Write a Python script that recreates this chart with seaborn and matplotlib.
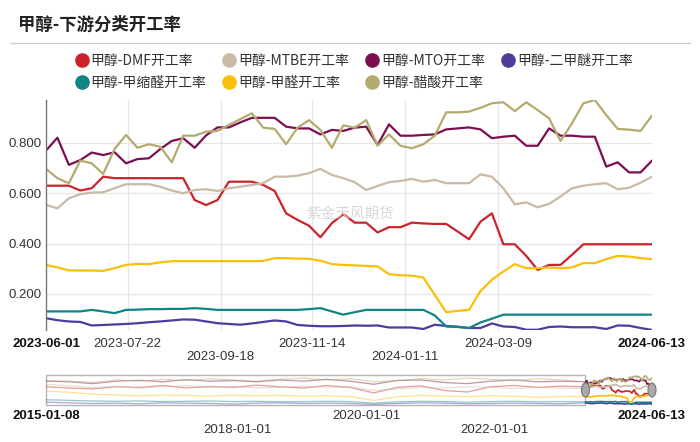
"""
Methanol downstream operating rates, weekly, with a zoom-slider strip below
"""
# %% IMPORT LIBRARIES
import matplotlib
matplotlib.use("Agg")
import matplotlib.pyplot as plt
import matplotlib.transforms as mtransforms
from matplotlib.lines import Line2D
from matplotlib.patches import Rectangle, Ellipse
from matplotlib.font_manager import FontProperties
import pandas as pd
import seaborn as sns

sns.set_style("white")
plt.rcParams['font.family'] = ['Liberation Sans', 'Noto Sans CJK SC', 'DejaVu Sans']

# %% DATA
names = ["甲醇-DMF开工率", "甲醇-MTBE开工率", "甲醇-MTO开工率", "甲醇-二甲醚开工率",
         "甲醇-甲缩醛开工率", "甲醇-甲醛开工率", "甲醇-醋酸开工率"]
colors = ["#cc2229", "#c9baa6", "#7b0f4f", "#4e3b9c", "#0f8586", "#fbbf0a", "#b5aa6e"]

# weekly points shown in the zoom window
dates = pd.date_range("2023-06-01", "2024-06-13", periods=54)

dmf = [0.630, 0.630, 0.630, 0.611, 0.620, 0.666, 0.660, 0.660, 0.660, 0.660, 0.660, 0.660, 0.660,
       0.573, 0.553, 0.573, 0.646, 0.646, 0.646, 0.633, 0.609, 0.520, 0.494, 0.471, 0.425, 0.481, 0.517,
       0.483, 0.483, 0.444, 0.465, 0.465, 0.483, 0.480, 0.478, 0.478, 0.448, 0.417, 0.487, 0.520,
       0.397, 0.397, 0.351, 0.295, 0.315, 0.315, 0.355, 0.397, 0.397, 0.397, 0.397, 0.397, 0.397, 0.397]
mtbe = [0.554, 0.540, 0.580, 0.596, 0.603, 0.604, 0.620, 0.636, 0.636, 0.636, 0.626, 0.611, 0.600,
        0.613, 0.616, 0.609, 0.620, 0.626, 0.633, 0.640, 0.666, 0.666, 0.670, 0.680, 0.697, 0.673, 0.660,
        0.644, 0.613, 0.629, 0.644, 0.649, 0.657, 0.646, 0.653, 0.640, 0.640, 0.640, 0.675, 0.666,
        0.620, 0.556, 0.564, 0.544, 0.558, 0.587, 0.620, 0.630, 0.636, 0.640, 0.616, 0.622, 0.642, 0.666]
mto = [0.770, 0.821, 0.713, 0.732, 0.762, 0.752, 0.763, 0.719, 0.736, 0.739, 0.776, 0.808, 0.819,
       0.781, 0.830, 0.862, 0.862, 0.882, 0.900, 0.900, 0.900, 0.865, 0.858, 0.858, 0.834, 0.852, 0.848,
       0.861, 0.865, 0.792, 0.874, 0.829, 0.829, 0.832, 0.834, 0.854, 0.858, 0.862, 0.854, 0.819,
       0.825, 0.829, 0.789, 0.789, 0.858, 0.829, 0.829, 0.825, 0.825, 0.706, 0.723, 0.683, 0.683, 0.730]
dme = [0.103, 0.095, 0.090, 0.088, 0.074, 0.076, 0.078, 0.080, 0.083, 0.087, 0.090, 0.094, 0.098,
       0.097, 0.090, 0.083, 0.080, 0.077, 0.082, 0.088, 0.094, 0.090, 0.076, 0.073, 0.071, 0.071, 0.072,
       0.074, 0.073, 0.074, 0.066, 0.066, 0.066, 0.060, 0.077, 0.072, 0.069, 0.064, 0.064, 0.082,
       0.070, 0.068, 0.057, 0.057, 0.068, 0.070, 0.067, 0.067, 0.067, 0.060, 0.074, 0.073, 0.064, 0.056]
methylal = [0.130, 0.130, 0.130, 0.130, 0.136, 0.130, 0.123, 0.136, 0.137, 0.139, 0.139, 0.140, 0.140,
            0.143, 0.140, 0.136, 0.136, 0.136, 0.136, 0.136, 0.136, 0.136, 0.136, 0.139, 0.143, 0.130, 0.117,
            0.127, 0.136, 0.136, 0.136, 0.136, 0.136, 0.136, 0.114, 0.070, 0.068, 0.064, 0.086, 0.101,
            0.117, 0.117, 0.117, 0.117, 0.117, 0.117, 0.117, 0.117, 0.117, 0.117, 0.117, 0.117, 0.117, 0.117]
formaldehyde = [0.315, 0.305, 0.293, 0.293, 0.293, 0.291, 0.302, 0.315, 0.319, 0.318, 0.325, 0.330, 0.330,
                0.330, 0.330, 0.330, 0.330, 0.330, 0.330, 0.331, 0.342, 0.342, 0.340, 0.339, 0.332, 0.318, 0.315,
                0.313, 0.311, 0.309, 0.278, 0.274, 0.272, 0.265, 0.196, 0.127, 0.132, 0.136, 0.211, 0.256,
                0.289, 0.318, 0.302, 0.302, 0.305, 0.302, 0.305, 0.322, 0.322, 0.338, 0.351, 0.348, 0.342, 0.338]
acetic = [0.697, 0.660, 0.640, 0.730, 0.719, 0.677, 0.776, 0.832, 0.781, 0.795, 0.785, 0.723, 0.829,
          0.829, 0.845, 0.848, 0.872, 0.895, 0.918, 0.861, 0.856, 0.795, 0.861, 0.891, 0.852, 0.781, 0.870,
          0.861, 0.891, 0.789, 0.834, 0.789, 0.779, 0.795, 0.829, 0.922, 0.922, 0.925, 0.940, 0.958,
          0.962, 0.927, 0.962, 0.931, 0.898, 0.808, 0.878, 0.958, 0.971, 0.911, 0.856, 0.853, 0.848, 0.909]

# rough history for the slider strip
hist_dates = pd.date_range("2015-01-08", "2023-05-25", periods=24)
hist_dmf = [0.62, 0.58, 0.55, 0.62, 0.60, 0.66, 0.58, 0.63, 0.60, 0.67, 0.62, 0.58,
            0.66, 0.60, 0.42, 0.60, 0.65, 0.50, 0.45, 0.62, 0.66, 0.60, 0.64, 0.62]
hist_mtbe = [0.70, 0.65, 0.60, 0.63, 0.58, 0.62, 0.66, 0.60, 0.63, 0.58, 0.60, 0.64,
             0.60, 0.62, 0.50, 0.55, 0.60, 0.58, 0.62, 0.60, 0.56, 0.60, 0.58, 0.56]
hist_mto = [0.80, 0.78, 0.72, 0.80, 0.83, 0.78, 0.85, 0.80, 0.82, 0.78, 0.84, 0.80,
            0.86, 0.80, 0.70, 0.82, 0.84, 0.76, 0.72, 0.80, 0.84, 0.78, 0.80, 0.78]
hist_dme = [0.12, 0.10, 0.08, 0.09, 0.07, 0.10, 0.09, 0.08, 0.06, 0.09, 0.10, 0.08,
            0.09, 0.08, 0.05, 0.08, 0.10, 0.09, 0.07, 0.08, 0.09, 0.08, 0.07, 0.10]
hist_methylal = [0.20, 0.18, 0.16, 0.15, 0.16, 0.14, 0.15, 0.16, 0.14, 0.15, 0.13, 0.14,
                 0.15, 0.14, 0.09, 0.13, 0.15, 0.14, 0.12, 0.14, 0.15, 0.13, 0.14, 0.13]
hist_formaldehyde = [0.48, 0.44, 0.38, 0.35, 0.33, 0.35, 0.34, 0.32, 0.35, 0.33, 0.34, 0.32,
                     0.33, 0.30, 0.18, 0.30, 0.34, 0.32, 0.30, 0.33, 0.31, 0.28, 0.30, 0.31]
hist_acetic = [0.82, 0.80, 0.76, 0.84, 0.80, 0.86, 0.82, 0.88, 0.84, 0.80, 0.86, 0.90,
               0.84, 0.88, 0.78, 0.82, 0.88, 0.84, 0.90, 0.86, 0.82, 0.88, 0.84, 0.78]

main_ticks = ["2023-07-22", "2023-09-18", "2023-11-14", "2024-01-11", "2024-03-09"]
slider_ticks = ["2018-01-01", "2020-01-01", "2022-01-01"]
yticks = [0.2, 0.4, 0.6, 0.8]

# %% BUILD TABLES
series = [dmf, mtbe, mto, dme, methylal, formaldehyde, acetic]
hist_series = [hist_dmf, hist_mtbe, hist_mto, hist_dme, hist_methylal, hist_formaldehyde, hist_acetic]

df = pd.concat([pd.DataFrame({"date": dates, "rate": vals, "series": n})
                for n, vals in zip(names, series)], ignore_index=True)
hist = pd.concat([pd.DataFrame({"date": list(hist_dates) + [dates[0]],
                                "rate": list(hv) + [v[0]], "series": n})
                  for n, hv, v in zip(names, hist_series, series)], ignore_index=True)

palette = dict(zip(names, colors))
start, end = dates[0], dates[-1]
full_start = hist_dates[0]

# %% FIGURE
fig = plt.figure(figsize=(7, 4.42), dpi=100)
W, H = 700, 442


def box(x0, y0, x1, y1):
    return [x0 / W, 1 - y1 / H, (x1 - x0) / W, (y1 - y0) / H]


ax = fig.add_axes(box(46, 100, 652, 330))
sns.lineplot(data=df, x="date", y="rate", hue="series", hue_order=names,
             palette=palette, linewidth=1.6, legend=False, ax=ax, estimator=None)
ax.set_xlim(start, end)
ax.set_ylim(0.056, 0.971)
ax.set_xlabel("")
ax.set_ylabel("")
ax.set_yticks(yticks)
ax.set_yticklabels([f"{v:.3f}" for v in yticks], color="#333333", fontsize=9.5)
ax.tick_params(axis="y", length=0, pad=3)
ax.set_xticks(pd.to_datetime(main_ticks))
ax.set_xticklabels([])
ax.tick_params(axis="x", length=0)
ax.grid(True, color="#e6e6e6", linewidth=0.9)
ax.set_axisbelow(True)
for s in ["top", "right", "bottom"]:
    ax.spines[s].set_visible(False)
ax.spines["left"].set_color("#777777")
ax.spines["left"].set_linewidth(1.0)

ax.text(0.502, 0.504, "紫金天风期货", transform=ax.transAxes, ha="center", va="center",
        fontsize=10.5, color="#d8d8d8", family=["Noto Sans CJK SC"])

# x labels in two staggered rows
trans = mtransforms.blended_transform_factory(ax.transData, fig.transFigure)
row1, row2 = 1 - 344 / H, 1 - 357 / H
ax.text(start, row1, start.strftime("%Y-%m-%d"), transform=trans, ha="center", va="center",
        fontsize=9.5, fontweight="bold", color="#111111")
ax.text(end, row1, end.strftime("%Y-%m-%d"), transform=trans, ha="center", va="center",
        fontsize=9.5, fontweight="bold", color="#111111")
for i, t in enumerate(main_ticks):
    ax.text(pd.Timestamp(t), row1 if i % 2 == 0 else row2, t, transform=trans,
            ha="center", va="center", fontsize=9.5, color="#333333")

# %% SLIDER
sl = fig.add_axes(box(46, 375, 652, 405))
sns.lineplot(data=hist, x="date", y="rate", hue="series", hue_order=names,
             palette=palette, linewidth=0.9, alpha=0.45, legend=False, ax=sl, estimator=None)
sns.lineplot(data=df, x="date", y="rate", hue="series", hue_order=names,
             palette=palette, linewidth=1.2, legend=False, ax=sl, estimator=None)
sl.set_xlim(full_start, end)
sl.set_ylim(0.03, 1.0)
sl.set_xlabel("")
sl.set_ylabel("")
sl.set_xticks([])
sl.set_yticks([])
for s in sl.spines.values():
    s.set_visible(False)
sl.add_patch(Rectangle((0, 0), (585 - 46) / (652 - 46), 1, transform=sl.transAxes,
                       fill=False, edgecolor="#b4b4b4", linewidth=1.0, clip_on=False))
for hx in [start, end]:
    px = (hx - full_start) / (end - full_start)
    sl.add_patch(Ellipse((px, 0.5), 8 / 606, 14 / 30, transform=sl.transAxes,
                         facecolor="#a9a9a9", edgecolor="#777777", linewidth=0.8,
                         clip_on=False, zorder=5))

trans2 = mtransforms.blended_transform_factory(sl.transData, fig.transFigure)
srow1, srow2 = 1 - 416 / H, 1 - 430 / H
sl.text(full_start, srow1, full_start.strftime("%Y-%m-%d"), transform=trans2, ha="center",
        va="center", fontsize=9.5, fontweight="bold", color="#111111")
sl.text(end, srow1, end.strftime("%Y-%m-%d"), transform=trans2, ha="center",
        va="center", fontsize=9.5, fontweight="bold", color="#111111")
for t in slider_ticks:
    yrow = srow1 if t.startswith("2020") else srow2
    sl.text(pd.Timestamp(t), yrow, t, transform=trans2, ha="center", va="center",
            fontsize=9.5, color="#333333")

# %% TITLE, RULE AND LEGEND
fig.text(18 / W, 1 - 25 / H, "甲醇-下游分类开工率", fontsize=12.5, fontweight="bold",
         color="#222222", va="center", family=["Noto Sans CJK SC"])
fig.add_artist(Line2D([10 / W, 690 / W], [1 - 43 / H, 1 - 43 / H], transform=fig.transFigure,
                      color="#cccccc", linewidth=1.0))

# legend fills column by column, so reorder to read row by row like the original
order = [0, 4, 1, 5, 2, 6, 3]
handles = [Line2D([], [], marker="o", linestyle="", markersize=9.5, color=colors[i]) for i in order]
labels = [names[i] for i in order]
fig.legend(handles, labels, loc="upper left", bbox_to_anchor=(74 / W, 1 - 54 / H), ncol=4,
           frameon=False, prop=FontProperties(family="Noto Sans CJK SC", size=10),
           handletextpad=0.1, columnspacing=1.1, handlelength=1.1, labelspacing=0.6,
           borderpad=0, borderaxespad=0, labelcolor="#333333")

plt.savefig("out.png", dpi=100)
